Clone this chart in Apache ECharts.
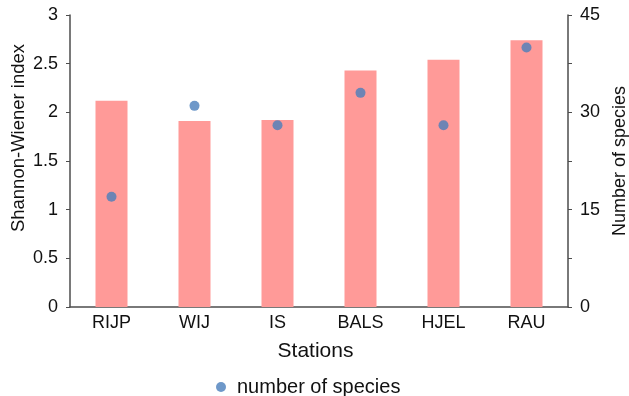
<!DOCTYPE html>
<html>
<head>
<meta charset="utf-8">
<script src="https://cdn.jsdelivr.net/npm/echarts@6/dist/echarts.min.js"></script>
<style>
  html, body { margin: 0; padding: 0; background: #fff; }
  #chart { width: 629px; height: 396px; }
</style>
</head>
<body>
<div id="chart"></div>
<script>
// Stations along the x axis
const stations = ['RIJP', 'WIJ', 'IS', 'BALS', 'HJEL', 'RAU'];
// Shannon-Wiener diversity index per station (bars, left axis)
const shannonIndex = [2.12, 1.91, 1.92, 2.43, 2.54, 2.74];
// Number of species per station (dots, right axis)
const speciesCount = [17, 31, 28, 33, 28, 40];

const FONT = "'Liberation Sans', Arial, sans-serif";
const AXIS_COLOR = '#4d4d4d';
const TEXT_COLOR = '#111111';

const chart = echarts.init(document.getElementById('chart'), null, { renderer: 'canvas' });

chart.setOption({
  animation: false,
  backgroundColor: '#ffffff',
  textStyle: { fontFamily: FONT },
  grid: { left: 70, right: 61, top: 15, bottom: 89, containLabel: false, outerBoundsMode: 'none' },
  legend: {
    data: ['number of species'],
    icon: 'circle',
    itemWidth: 10,
    itemHeight: 10,
    left: 211,
    top: 372,
    textStyle: { fontFamily: FONT, fontSize: 20, color: TEXT_COLOR, padding: [0, 0, 0, 6] }
  },
  xAxis: {
    type: 'category',
    data: stations,
    boundaryGap: true,
    name: 'Stations',
    nameLocation: 'middle',
    nameGap: 34,
    nameTextStyle: { fontFamily: FONT, fontSize: 21, color: TEXT_COLOR, padding: [0, 7, 0, 0] },
    axisLine: { lineStyle: { color: AXIS_COLOR, width: 1.5 } },
    axisTick: { show: false },
    axisLabel: { fontFamily: FONT, fontSize: 18, color: TEXT_COLOR, margin: 7 },
    splitLine: { show: false }
  },
  yAxis: [
    {
      type: 'value',
      min: 0,
      max: 3,
      interval: 0.5,
      axisLine: { show: true, lineStyle: { color: AXIS_COLOR, width: 1.5 } },
      axisTick: { show: true, inside: false, length: 4, lineStyle: { color: AXIS_COLOR } },
      axisLabel: { fontFamily: FONT, fontSize: 18, color: TEXT_COLOR, margin: 12 },
      splitLine: { show: false }
    },
    {
      type: 'value',
      min: 0,
      max: 45,
      interval: 7.5,
      position: 'right',
      name: 'Number of species',
      nameLocation: 'middle',
      nameGap: 43,
      nameRotate: 90,
      nameTextStyle: { fontFamily: FONT, fontSize: 18, color: TEXT_COLOR },
      axisLine: { show: true, lineStyle: { color: AXIS_COLOR, width: 1.5 } },
      axisTick: { show: true, inside: false, length: 4, lineStyle: { color: AXIS_COLOR } },
      axisLabel: {
        fontFamily: FONT, fontSize: 18, color: TEXT_COLOR, margin: 12,
        formatter: v => (v % 15 === 0 ? String(v) : '')
      },
      splitLine: { show: false }
    }
  ],
  graphic: [
    {
      type: 'text',
      x: 19,
      y: 138,
      rotation: Math.PI / 2,
      style: {
        text: 'Shannon-Wiener index',
        font: "18.5px 'Liberation Sans', Arial, sans-serif",
        fill: TEXT_COLOR,
        textAlign: 'center',
        textVerticalAlign: 'middle'
      }
    }
  ],
  series: [
    {
      name: 'Shannon-Wiener index',
      type: 'bar',
      yAxisIndex: 0,
      data: shannonIndex,
      barWidth: 32,
      itemStyle: { color: '#ff9a98' }
    },
    {
      name: 'number of species',
      type: 'scatter',
      yAxisIndex: 1,
      data: speciesCount,
      symbol: 'circle',
      symbolSize: 10,
      itemStyle: { color: '#4a7ebb' },
      z: 5
    }
  ]
});
</script>
</body>
</html>
